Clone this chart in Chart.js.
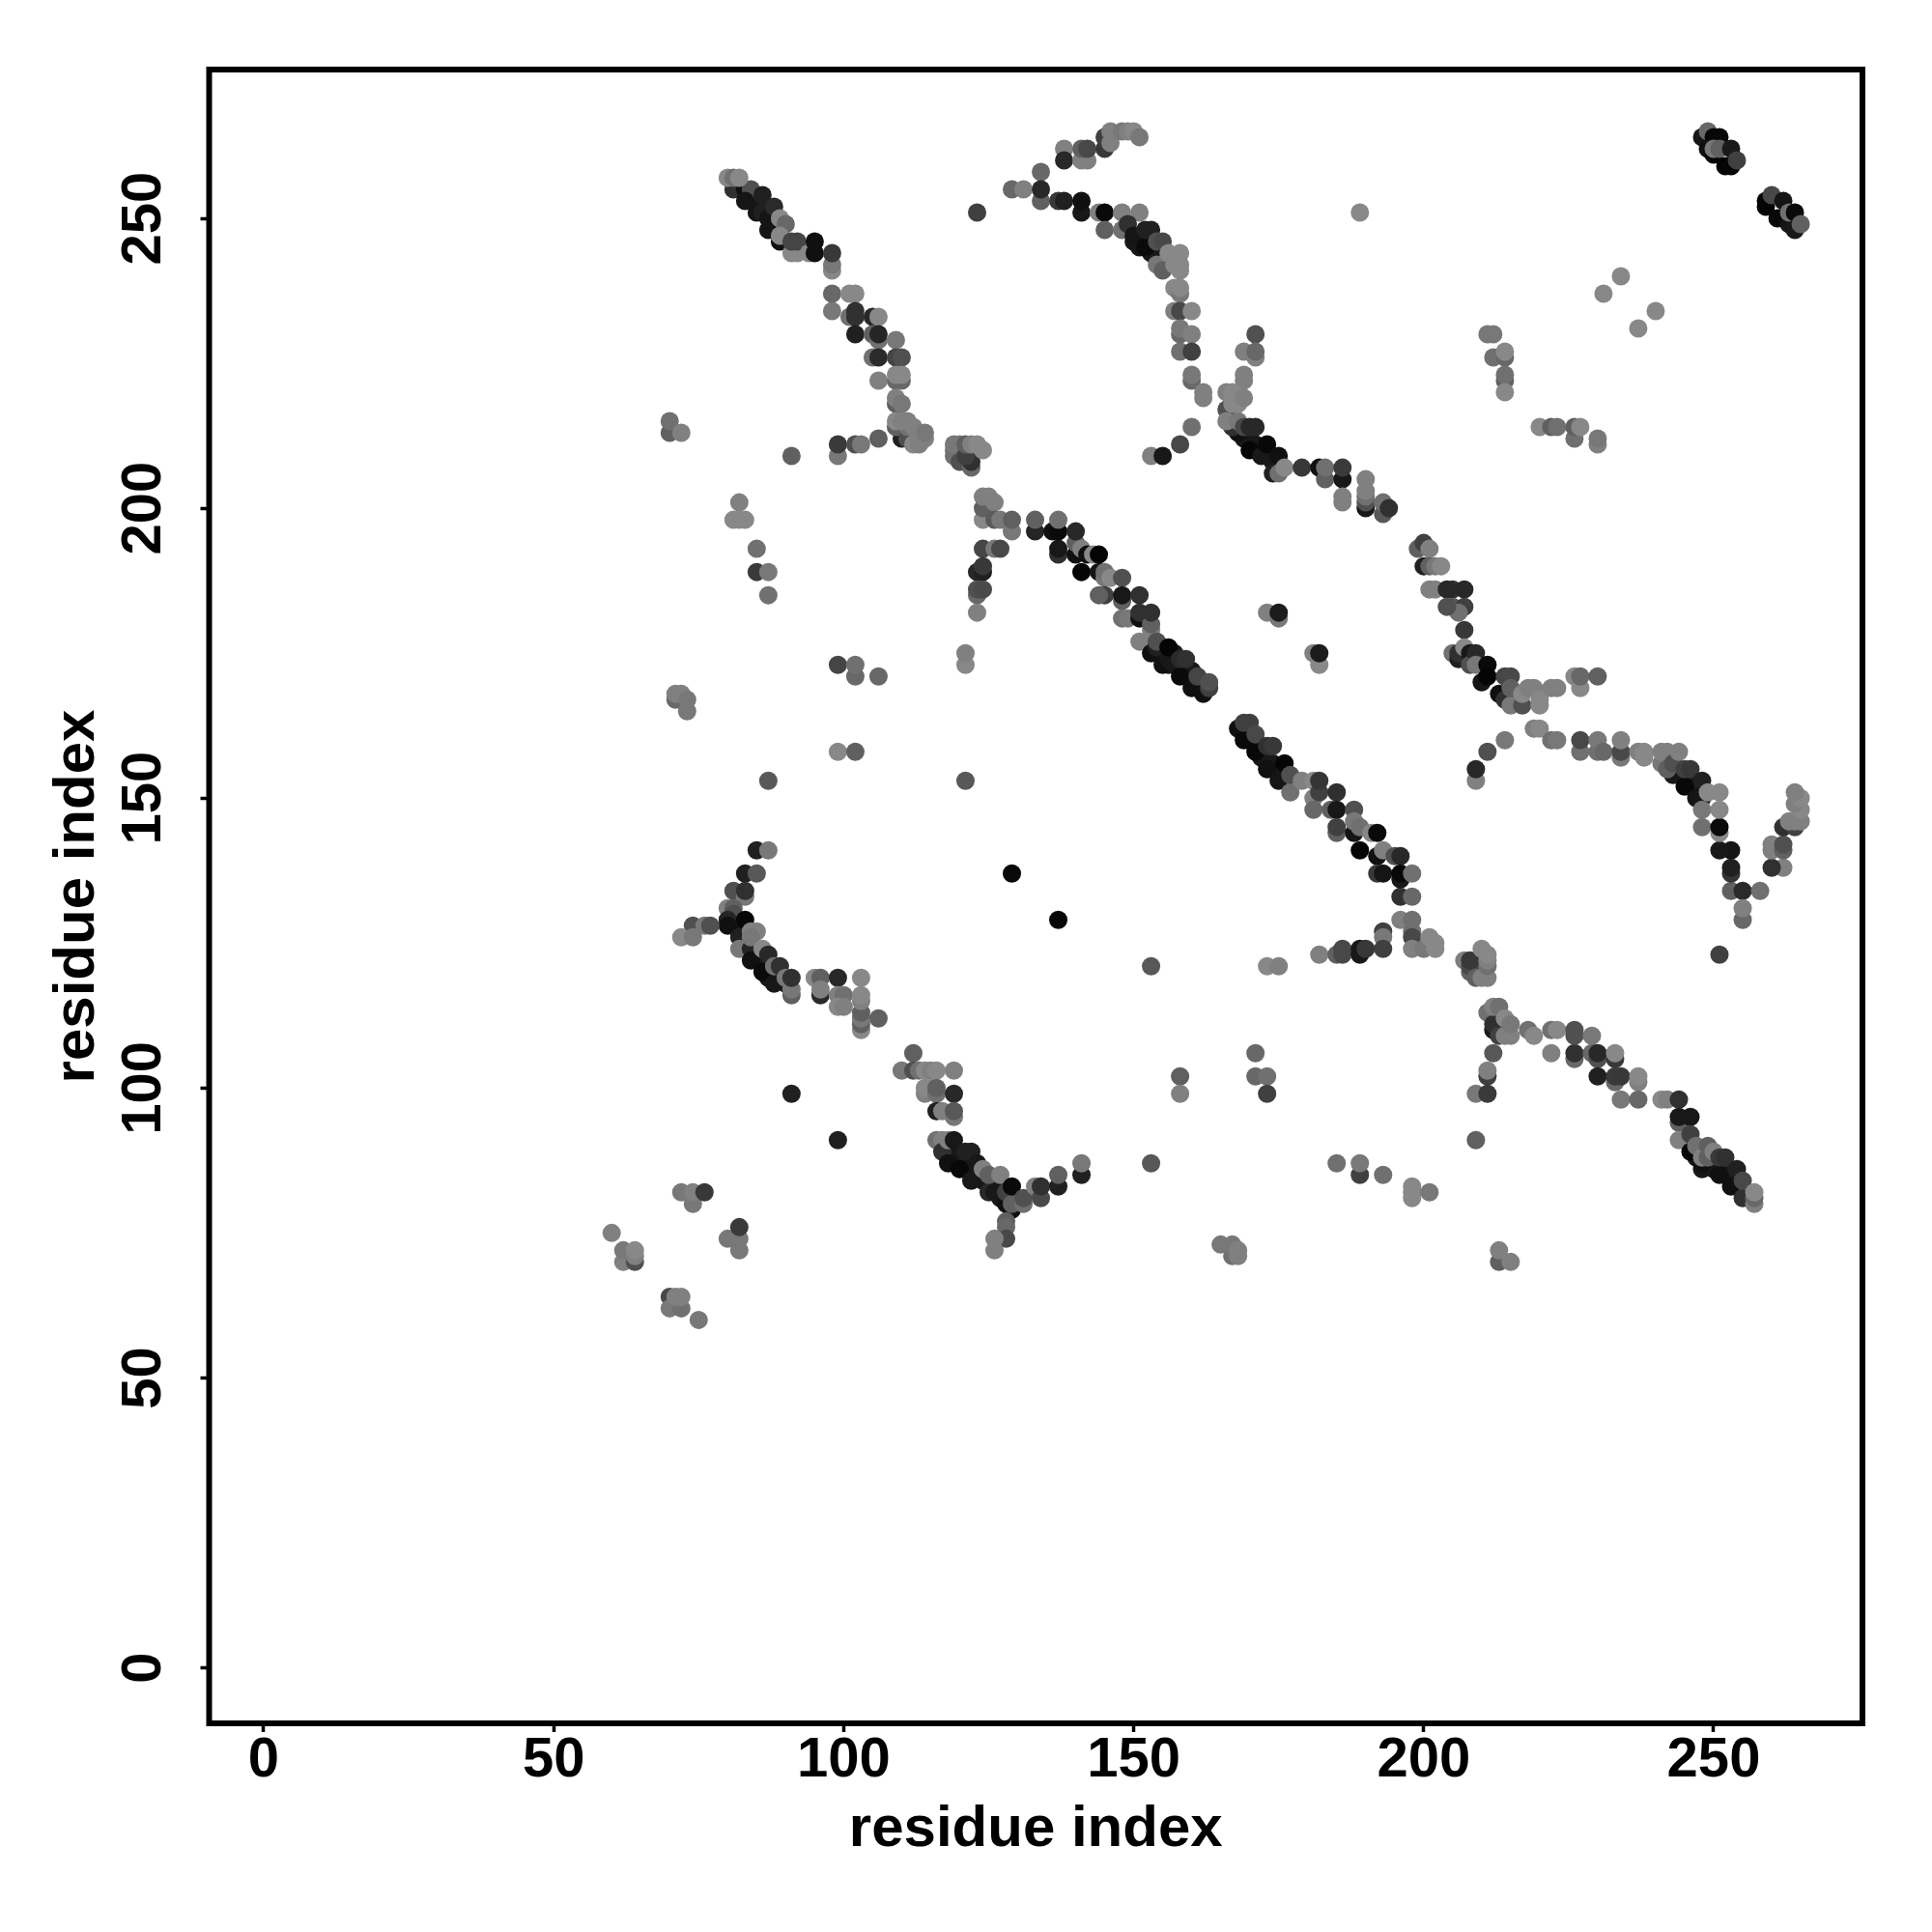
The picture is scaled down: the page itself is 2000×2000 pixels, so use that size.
<!DOCTYPE html>
<html><head><meta charset="utf-8">
<style>html,body{margin:0;padding:0;background:#fff}canvas{display:block}</style>
<script src="https://cdn.jsdelivr.net/npm/chart.js@4"></script>
</head><body><canvas id="c" width="2000" height="2000"></canvas>
<script>
const tickValues=[0,50,100,150,200,250];
const axisLabel="residue index";
const residueX=[
153,154,155,156,157,158,159,160,161,162,
169,170,171,172,172,174,174,175,176,
84,85,86,87,88,
81,82,83,83,85,86,87,88,89,90,
119,120,121,122,123,124,125,126,127,127,
247,248,249,250,252,253,254,
169,170,171,172,173,174,
150,151,152,153,154,155,155,
245,246,247,247,248,244,243,
81,83,84,83,85,86,86,87,87,88,88,80,81,82,89,90,89,89,91,92,91,92,94,95,95,98,98,98,
98,101,102,98,101,102,102,102,105,106,105,106,106,109,105,106,109,110,106,109,110,109,110,109,109,110,
110,109,111,111,109,110,111,112,112,113,113,114,114,
99,99,102,103,106,91,70,70,72,82,81,82,83,123,
119,119,119,120,120,121,122,122,121,121,122,123,124,
124,124,124,125,126,126,127,129,129,133,133,136,137,137,
124,126,127,123,124,124,123,123,124,123,
85,85,87,87,99,102,102,106,121,121,71,71,72,73,73,99,102,87,121,129,137,
137,137,140,140,140,141,142,141,143,144,144,145,145,146,145,144,148,148,148,151,148,149,151,151,153,153,153,151,153,154,154,155,156,156,157,158,158,159,160,161,162,163,163,
173,175,175,181,182,182,
168,169,169,170,171,171,173,173,174,175,176,177,177,179,181,181,181,182,182,185,184,185,188,185,185,188,188,189,189,191,192,192,193,195,196,192,193,196,196,198,196,198,196,198,198,198,198,200,201,202,202,
193,193,193,
153,173,175,182,185,186,186,189,189,190,158,158,171,171,173,173,
85,87,83,85,81,83,83,80,81,81,80,80,83,74,76,77,72,74,
82,82,84,84,84,85,84,86,86,87,88,88,89,90,91,91,91,
95,96,96,96,99,103,99,100,99,100,103,103,103,103,103,103,106,
112,110,112,113,114,115,116,119,114,114,115,116,116,119,116,117,119,119,91,99,
72,74,74,76,60,62,62,64,64,64,80,82,82,82,
70,70,72,71,72,75,
116,117,117,118,118,119,120,121,122,122,123,124,125,125,126,127,128,128,129,129,129,131,131,133,134,134,137,137,141,141,153,
128,128,128,126,126,
185,189,189,193,165,167,167,168,168,
207,208,208,208,209,210,211,211,211,211,210,
211,212,212,212,213,213,214,214,215,215,
212,211,211,209,211,209,
218,219,222,223,222,226,226,226,226,229,229,230,230,233,233,230,233,233,234,237,237,234,237,
241,242,244,244,244,244,246,246,246,247,248,248,249,249,250,251,251,252,253,254,255,255,257,257,257,
251,253,255,258,255,255,253,253,253,251,
198,198,198,201,213,213,215,
207,205,207,205,207,206,205,206,206,207,208,208,209,209,210,211,211,213,214,214,215,215,215,217,217,218,219,220,220,222,223,226,227,227,230,
219,220,222,223,227,227,230,230,231,234,234,234,
209,209,211,214,
237,238,238,241,241,242,242,243,244,245,245,246,247,248,248,248,249,251,251,251,251,
262,260,260,260,262,262,262,264,263,264,265,265,264,265,264,
129,131,134,134,134,137,138,141,141,138,138,141,142,141,142,145,145,146,146,148,149,150,151,
144,145,145,148,148,151,149,150,152,152,153,154,155,154,155,156,158,157,158,158,157,158,158,157,158,160,158,158,160,158,160,160,160,162,162,160,158,153,155,
171,169,171,171,169,169,166,168,167,166,168,169,170,171,166,167,167,168,169,170,172,173,174,175,175,176,179,182,183,183,186,186,186,186,190,190,190,190,190,193,193,194,189,
248,249,250,251,249,250,250,251,252,253,253,254,259,259,260,261,262,263,263,264,264,265,
234,231,240,237,
211,212,212,214,214,214,214,214,220,222,223,226,226,227,230,230,
199,200,201,200,201,202,203,201,202,204,204
];
const residueY=[
177,175,175,173,175,172,171,172,169,170,
161,160,160,158,157,156,155,155,154,
253,253,252,251,249,
128,127,125,124,123,122,119,120,119,118,
89,88,87,86,85,84,84,83,82,81,
88,86,87,86,85,85,84,
212,212,211,210,209,208,
246,245,246,244,243,243,244,
153,152,152,151,150,154,154,
255,255,255,253,251,254,251,250,248,252,248,257,257,257,250,249,246,247,244,244,246,246,244,246,244,241,242,244,
237,237,237,234,233,234,233,230,233,233,230,229,230,229,226,226,226,226,222,222,222,223,223,218,219,218,
212,214,212,214,215,215,215,214,211,211,212,212,213,
209,211,211,211,212,209,213,215,213,201,198,198,198,251,
209,210,211,211,208,208,207,208,209,211,211,211,210,
198,200,202,202,201,198,198,196,198,196,198,196,196,198,
193,193,193,189,189,190,185,186,186,182,
193,189,189,185,173,171,173,171,173,175,167,168,168,167,165,158,158,153,153,137,129,
192,193,192,194,196,193,192,189,192,192,189,188,189,188,185,185,188,184,185,185,181,181,181,182,179,180,182,177,175,176,177,173,174,176,173,171,174,174,169,171,168,169,170,
182,181,182,175,173,175,
162,160,163,163,158,161,155,159,159,153,156,151,154,153,150,148,153,151,153,151,148,148,148,144,145,144,146,145,141,144,144,140,141,140,140,137,137,136,137,137,133,133,129,129,127,126,124,124,126,125,124,
127,126,124,
121,121,121,123,123,124,123,124,123,124,102,99,106,102,102,99,
141,141,137,137,134,133,134,131,131,130,129,128,129,128,128,128,126,126,
126,124,124,122,127,127,126,124,120,123,118,121,121,119,116,117,119,
119,119,116,117,119,119,116,116,114,114,110,111,112,113,115,116,112,
106,103,103,103,103,103,103,103,99,100,100,99,100,99,96,96,95,96,99,91,
82,80,82,82,75,70,72,70,71,72,74,72,74,76,
64,62,62,64,64,60,
91,91,89,91,87,91,86,89,84,89,87,86,82,85,82,85,80,82,79,80,83,80,81,83,81,83,83,85,85,87,87,
77,76,74,74,72,
87,85,87,85,73,71,73,71,72,
122,120,121,122,119,119,119,121,122,123,124,
113,110,111,114,114,109,112,109,109,111,
106,102,103,99,99,91,
110,109,110,110,106,105,106,109,110,109,106,105,106,105,106,102,101,102,102,101,102,98,98,
98,98,98,94,91,95,95,89,92,90,87,88,88,90,89,85,88,88,83,86,81,84,80,81,82,
123,134,134,134,129,131,137,138,141,141,
81,82,83,82,70,72,70,
179,186,186,183,183,182,175,174,175,176,175,173,175,173,170,173,171,168,167,171,171,166,169,166,168,169,169,166,167,169,169,171,169,171,171,
162,162,160,160,158,160,158,160,158,157,158,160,
153,155,158,160,
158,157,158,156,158,155,158,156,158,152,155,155,150,153,145,148,151,144,145,148,151,
138,138,141,142,141,142,145,145,146,146,146,148,149,150,151,
255,255,258,253,255,253,253,251,253,262,260,260,260,262,262,262,264,263,265,265,265,265,264,
251,251,248,248,251,251,249,247,245,248,248,246,246,242,241,244,244,242,242,241,238,237,238,234,234,234,230,231,230,227,227,222,223,219,220,214,211,209,209,
230,227,226,227,222,223,217,213,214,215,215,214,214,214,220,220,218,218,219,210,209,211,206,209,206,207,207,207,205,207,205,207,201,202,200,201,202,203,205,199,201,200,251,
264,265,264,264,262,261,262,262,259,259,262,260,252,253,254,250,253,249,251,248,251,249,
240,237,234,231,
230,230,226,226,227,222,223,220,214,214,214,212,214,214,211,212,
193,194,193,190,190,190,190,186,186,186,183
];
const shade=[
24,24,24,24,24,24,24,24,24,24,
24,24,24,24,24,24,24,24,24,
24,24,24,24,24,
24,24,24,24,24,24,24,24,24,24,
24,24,24,24,24,24,24,24,24,24,
24,24,24,24,24,24,24,
24,24,24,24,24,24,
24,24,24,24,24,24,24,
24,24,24,24,24,24,24,
48,16,80,21,21,32,32,21,21,42,21,136,112,136,136,104,16,136,136,136,69,69,136,16,16,136,120,56,
104,136,136,120,112,48,48,32,40,136,96,112,37,120,112,42,69,80,128,104,104,136,136,96,128,120,
32,96,80,112,136,128,128,128,136,128,128,128,120,
120,58,80,120,96,96,96,112,128,128,136,136,136,64,
112,112,120,120,80,80,104,48,64,96,128,136,136,
136,96,128,128,128,90,120,120,96,37,96,16,10,112,
69,120,72,40,32,56,104,80,74,128,
112,58,120,112,69,104,112,104,136,128,104,128,128,120,120,136,96,88,88,10,8,
48,24,16,96,40,128,16,5,136,5,21,120,112,136,64,96,80,96,24,48,112,120,16,48,128,96,48,128,16,32,80,16,24,5,24,10,42,48,16,69,16,64,80,
128,120,28,128,136,28,
16,10,64,64,8,72,16,48,56,21,5,112,80,128,128,104,136,64,53,48,96,24,80,96,64,21,120,112,5,136,10,16,128,80,40,56,21,24,8,112,48,104,128,112,112,72,128,120,136,136,136,
64,120,64,
88,136,128,128,96,72,72,24,24,56,96,128,104,104,112,64,
32,120,32,88,80,120,48,128,96,80,37,16,8,80,120,80,136,120,
32,120,37,16,128,128,120,136,10,40,24,112,48,120,96,120,48,
136,96,42,128,40,136,128,112,136,128,136,96,120,96,128,136,96,
96,120,80,112,136,128,136,128,128,136,136,112,96,40,32,128,120,88,32,32,
120,120,128,56,128,128,120,80,128,136,120,120,120,58,
72,120,112,128,128,120,
112,128,48,128,16,24,8,32,24,32,24,128,40,96,24,128,16,64,16,96,10,112,80,128,74,48,32,96,32,120,88,
96,104,72,128,128,
112,64,120,112,120,112,120,128,128,
128,96,72,56,96,128,128,112,128,136,136,
112,24,48,128,112,64,136,128,128,120,
88,64,128,120,58,96,
112,136,112,136,128,104,48,80,80,120,104,80,40,56,136,32,104,58,56,128,136,120,104,
136,128,48,96,128,24,24,8,64,112,16,128,96,96,128,16,56,48,16,32,48,72,128,104,136,
64,96,42,112,104,128,53,32,21,24,
136,136,136,120,96,128,128,
56,48,40,88,64,112,112,32,48,136,24,80,40,120,21,10,5,16,48,69,72,120,96,80,136,128,128,136,136,128,128,136,136,104,96,
128,136,112,120,112,72,112,120,104,120,72,128,
128,40,80,120,
128,136,136,120,128,96,128,80,128,8,64,56,21,32,112,120,136,136,10,136,136,
128,48,128,128,96,80,48,64,128,128,128,136,128,136,128,
104,128,104,96,40,56,32,24,16,128,40,128,128,96,72,56,64,128,128,120,128,136,120,
128,10,96,112,128,128,48,21,10,32,32,80,72,120,96,136,136,136,136,136,136,120,136,128,72,136,104,120,128,112,64,104,120,128,128,112,72,128,24,
80,128,128,104,128,128,80,16,48,128,120,72,40,40,128,136,136,136,128,5,24,8,32,16,112,136,56,16,96,112,24,58,128,128,24,80,112,128,128,88,112,48,136,
21,104,8,8,16,5,120,96,5,5,26,64,5,5,72,8,21,21,112,24,10,96,
136,136,136,136,
120,120,112,104,136,96,112,136,136,96,112,112,96,136,128,120,
96,64,128,32,96,120,136,128,128,40,80
];

const n=Math.min(residueX.length,residueY.length,shade.length);
const frame={id:'frame',afterDatasetsDraw(ch){const a=ch.chartArea,c=ch.ctx;c.save();c.strokeStyle='#000';c.lineWidth=6;c.lineJoin='miter';c.strokeRect(a.left,a.top,a.right-a.left,a.bottom-a.top);c.restore();}};
const font=s=>({family:'"Liberation Sans",Arial,sans-serif',weight:'bold',size:s});
new Chart(document.getElementById('c'),{
  type:'scatter',
  data:{datasets:[{
    data:Array.from({length:n},(_,i)=>({x:residueX[i],y:residueY[i]})),
    pointRadius:9.5,pointHoverRadius:9.5,pointBorderWidth:0,
    pointBackgroundColor:Array.from({length:n},(_,i)=>`rgb(${shade[i]},${shade[i]},${shade[i]})`)
  }]},
  options:{
    responsive:false,animation:false,events:[],
    layout:{padding:{top:72,right:72,left:0,bottom:0}},
    plugins:{legend:{display:false},tooltip:{enabled:false}},
    scales:{
      x:{type:'linear',min:-9.41,max:275.65,
        grid:{display:true,drawOnChartArea:false,drawTicks:true,tickLength:9,tickWidth:3.5,tickColor:'#000'},
        border:{display:false},
        afterBuildTicks:s=>{s.ticks=tickValues.map(v=>({value:v}));},
        afterFit:s=>{s.height=216;},
        ticks:{color:'#000',font:font(58),padding:-5,maxRotation:0,minRotation:0,autoSkip:false},
        title:{display:true,text:axisLabel,color:'#000',font:font(60),padding:{top:0,bottom:70}}
      },
      y:{type:'linear',min:-9.58,max:275.66,
        grid:{display:true,drawOnChartArea:false,drawTicks:true,tickLength:9,tickWidth:3.5,tickColor:'#000'},
        border:{display:false},
        afterBuildTicks:s=>{s.ticks=tickValues.map(v=>({value:v}));},
        afterFit:s=>{s.width=216.5;},
        ticks:{color:'#000',font:font(58),padding:9,crossAlign:'center',maxRotation:90,minRotation:90,autoSkip:false},
        title:{display:true,text:axisLabel,color:'#000',font:font(60),padding:{top:44,bottom:0}}
      }
    }
  },
  plugins:[frame]
});
</script></body></html>
